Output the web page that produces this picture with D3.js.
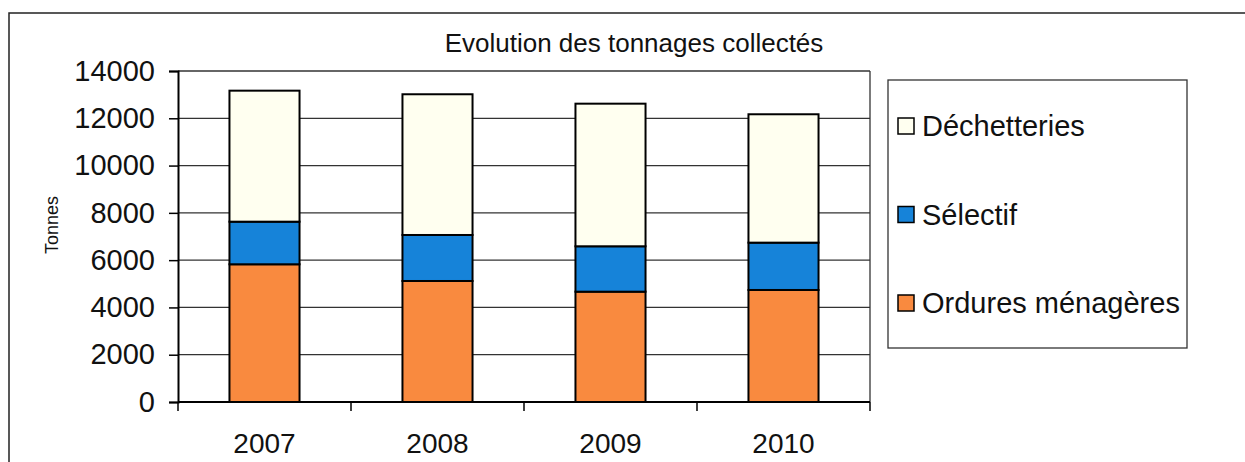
<!DOCTYPE html>
<html>
<head>
<meta charset="utf-8">
<script src="https://cdn.jsdelivr.net/npm/d3@7"></script>
<style>
  body { margin: 0; background: #fff; }
  svg { display: block; font-family: "Liberation Sans", Arial, sans-serif; }
</style>
</head>
<body>
<div id="chart"></div>
<script>
// données
const years = ['2007', '2008', '2009', '2010'];
const ordures = [5825, 5118, 4666, 4738];
const selectif = [1802, 1946, 1920, 2002];
const decheteries = [5541, 5952, 6032, 5430];
const seriesNames = ['Ordures ménagères', 'Sélectif', 'Déchetteries'];
const seriesColors = ['#f98a3f', '#1683d9', '#fffff0'];
const yTicks = [0, 2000, 4000, 6000, 8000, 10000, 12000, 14000];

const width = 1245, height = 462;
const plot = { left: 178, right: 870, top: 71, bottom: 402 };

const svg = d3.select('#chart').append('svg')
    .attr('width', width)
    .attr('height', height);

// cadre extérieur
svg.append('rect')
    .attr('x', 9).attr('y', 13)
    .attr('width', 1300).attr('height', 500)
    .attr('fill', 'none')
    .attr('stroke', '#222')
    .attr('stroke-width', 1.5);

const x = d3.scaleBand()
    .domain(years)
    .range([plot.left, plot.right])
    .paddingInner(0.595)
    .paddingOuter(0.2975);

const y = d3.scaleLinear()
    .domain([0, 14000])
    .range([plot.bottom, plot.top]);

// lignes de grille
svg.append('g')
    .selectAll('line')
    .data(yTicks.slice(1))
    .enter()
    .append('line')
    .attr('x1', plot.left).attr('x2', plot.right)
    .attr('y1', d => y(d)).attr('y2', d => y(d))
    .attr('stroke', '#333')
    .attr('stroke-width', 1.3);

// bord droit de la zone de tracé
svg.append('line')
    .attr('x1', plot.right).attr('x2', plot.right)
    .attr('y1', plot.top).attr('y2', plot.bottom)
    .attr('stroke', '#333')
    .attr('stroke-width', 1.3);

// empilement
const rows = years.map((yr, i) => ({
    year: yr,
    'Ordures ménagères': ordures[i],
    'Sélectif': selectif[i],
    'Déchetteries': decheteries[i]
}));
const stack = d3.stack().keys(seriesNames)(rows);

svg.append('g')
    .selectAll('g')
    .data(stack)
    .enter()
    .append('g')
    .attr('fill', (d, i) => seriesColors[i])
    .selectAll('rect')
    .data(d => d)
    .enter()
    .append('rect')
    .attr('x', d => x(d.data.year))
    .attr('width', x.bandwidth())
    .attr('y', d => y(d[1]))
    .attr('height', d => y(d[0]) - y(d[1]))
    .attr('stroke', '#000')
    .attr('stroke-width', 2);

// axe Y
const yAxis = svg.append('g')
    .attr('transform', `translate(${plot.left},0)`)
    .call(d3.axisLeft(y).tickValues(yTicks).tickSize(9).tickPadding(14).tickFormat(d3.format('d')));
yAxis.select('.domain').attr('stroke', '#000').attr('stroke-width', 2);
yAxis.selectAll('.tick line').attr('stroke', '#000').attr('stroke-width', 1.5);
yAxis.selectAll('.tick text')
    .attr('font-size', 29)
    .attr('font-family', '"Liberation Sans", Arial, sans-serif')
    .attr('fill', '#111');

// axe X (graduations entre catégories)
const xEdges = d3.scaleLinear().domain([0, years.length]).range([plot.left, plot.right]);
svg.append('line')
    .attr('x1', plot.left).attr('x2', plot.right)
    .attr('y1', plot.bottom).attr('y2', plot.bottom)
    .attr('stroke', '#000').attr('stroke-width', 2);
svg.append('g')
    .selectAll('line')
    .data(d3.range(years.length + 1))
    .enter()
    .append('line')
    .attr('x1', d => xEdges(d)).attr('x2', d => xEdges(d))
    .attr('y1', plot.bottom).attr('y2', plot.bottom + 9)
    .attr('stroke', '#000').attr('stroke-width', 1.5);

svg.append('g')
    .selectAll('text')
    .data(years)
    .enter()
    .append('text')
    .attr('x', d => x(d) + x.bandwidth() / 2)
    .attr('y', 453)
    .attr('text-anchor', 'middle')
    .attr('font-size', 28)
    .attr('fill', '#111')
    .text(d => d);

// titre
svg.append('text')
    .attr('x', 634).attr('y', 52)
    .attr('text-anchor', 'middle')
    .attr('font-size', 26)
    .attr('fill', '#111')
    .text('Evolution des tonnages collectés');

// titre de l'axe Y
svg.append('text')
    .attr('transform', 'translate(58,225) rotate(-90)')
    .attr('text-anchor', 'middle')
    .attr('font-size', 18)
    .attr('fill', '#111')
    .text('Tonnes');

// légende
svg.append('rect')
    .attr('x', 888).attr('y', 80)
    .attr('width', 299).attr('height', 268)
    .attr('fill', '#fff')
    .attr('stroke', '#333')
    .attr('stroke-width', 1.3);

const legendOrder = [2, 1, 0];
const legendY = d3.scalePoint().domain(legendOrder).range([126, 303]);

const items = svg.append('g')
    .selectAll('g')
    .data(legendOrder)
    .enter()
    .append('g')
    .attr('transform', d => `translate(898,${legendY(d)})`);

items.append('rect')
    .attr('x', 0).attr('y', -8)
    .attr('width', 16).attr('height', 16)
    .attr('fill', d => seriesColors[d])
    .attr('stroke', '#000')
    .attr('stroke-width', 1.5);

items.append('text')
    .attr('x', 24)
    .attr('dy', '0.36em')
    .attr('font-size', 29)
    .attr('fill', '#111')
    .text(d => seriesNames[d]);
</script>
</body>
</html>
